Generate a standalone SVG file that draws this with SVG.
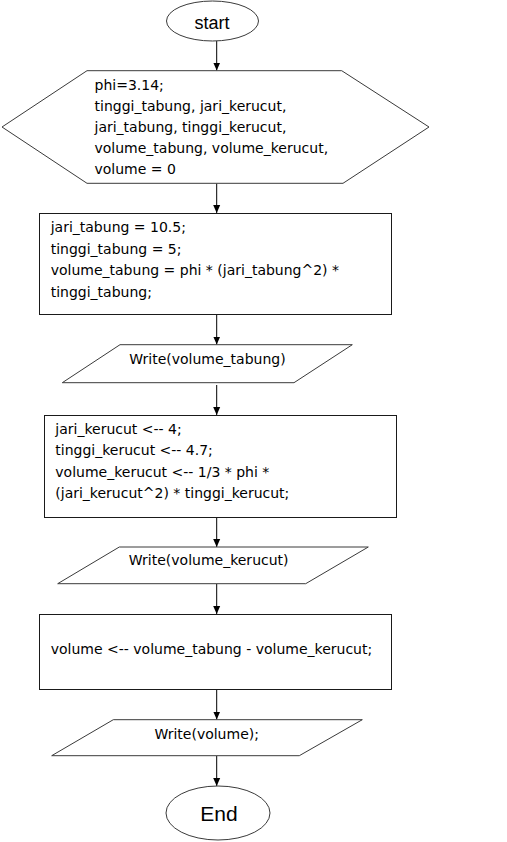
<svg xmlns="http://www.w3.org/2000/svg" width="507" height="842" viewBox="0 0 507 842">
<style>
.s{fill:#fff;stroke:#1a1a1a;stroke-width:1}
.p{fill:#fff;stroke:#3a3a3a;stroke-width:1}
.t{font-family:"DejaVu Sans",Verdana,sans-serif;font-size:14px;fill:#000}
.c{text-anchor:middle}
.e{font-family:"Liberation Sans",sans-serif;fill:#000;text-anchor:middle}
.l{stroke:#000;stroke-width:1;fill:none;marker-end:url(#a)}
</style>
<defs>
<marker id="a" markerWidth="8" markerHeight="8" refX="8" refY="4" orient="auto" markerUnits="userSpaceOnUse">
<path d="M0,0.5 L8,4 L0,7.5 Z" fill="#000"/>
</marker>
</defs>
<rect width="507" height="842" fill="#fff"/>
<g id="connectors">
<line class="l" x1="216.7" y1="41" x2="216.7" y2="70.5"/>
<line class="l" x1="216.7" y1="183.5" x2="216.7" y2="213"/>
<line class="l" x1="216.7" y1="314.5" x2="216.7" y2="344.5"/>
<line class="l" x1="216.7" y1="385" x2="216.7" y2="415"/>
<line class="l" x1="216.7" y1="517.5" x2="216.7" y2="547"/>
<line class="l" x1="216.7" y1="584" x2="216.7" y2="614"/>
<line class="l" x1="216.7" y1="689.5" x2="216.7" y2="719.5"/>
<line class="l" x1="216.7" y1="756" x2="216.7" y2="786"/>
</g>
<g id="start">
<ellipse class="p" cx="212.5" cy="21" rx="46" ry="20"/>
<text class="e" x="212" y="29" font-size="18">start</text>
</g>
<g id="init">
<polygon class="p" points="87,70.7 341.7,70.7 429,127 343,183.3 87,183.3 2,127"/>
<text class="t" x="94.5" y="90">phi=3.14;</text>
<text class="t" x="94.5" y="111">tinggi_tabung, jari_kerucut,</text>
<text class="t" x="94.5" y="132">jari_tabung, tinggi_kerucut,</text>
<text class="t" x="94.5" y="153">volume_tabung, volume_kerucut,</text>
<text class="t" x="94.5" y="174">volume = 0</text>
</g>
<g id="proc1">
<rect class="s" x="39.5" y="213.5" width="352" height="101"/>
<text class="t" x="50.7" y="232">jari_tabung = 10.5;</text>
<text class="t" x="50.7" y="253.5">tinggi_tabung = 5;</text>
<text class="t" x="50.7" y="275">volume_tabung = phi * (jari_tabung^2) *</text>
<text class="t" x="50.7" y="296.5">tinggi_tabung;</text>
</g>
<g id="out1">
<polygon class="p" points="120,344.7 352.3,344.7 294,382.7 62.3,382.7"/>
<text class="t c" x="207.5" y="363.5">Write(volume_tabung)</text>
</g>
<g id="proc2">
<rect class="s" x="44.5" y="415.5" width="352" height="102"/>
<text class="t" x="55.3" y="433.5">jari_kerucut &lt;-- 4;</text>
<text class="t" x="55.3" y="455">tinggi_kerucut &lt;-- 4.7;</text>
<text class="t" x="55.3" y="476.7">volume_kerucut &lt;-- 1/3 * phi *</text>
<text class="t" x="55.3" y="498">(jari_kerucut^2) * tinggi_kerucut;</text>
</g>
<g id="out2">
<polygon class="p" points="119.3,547 368.3,547 305.7,583.7 57.7,583.7"/>
<text class="t c" x="208.7" y="565">Write(volume_kerucut)</text>
</g>
<g id="proc3">
<rect class="s" x="39.5" y="614.5" width="352" height="75"/>
<text class="t" x="50.7" y="654">volume &lt;-- volume_tabung - volume_kerucut;</text>
</g>
<g id="out3">
<polygon class="p" points="113.3,719.7 362.3,719.7 299.3,755.7 51.7,755.7"/>
<text class="t c" x="206.7" y="738.5">Write(volume);</text>
</g>
<g id="end">
<ellipse class="p" cx="218" cy="813" rx="52" ry="27"/>
<text class="e" x="219" y="821" font-size="21">End</text>
</g>
</svg>
